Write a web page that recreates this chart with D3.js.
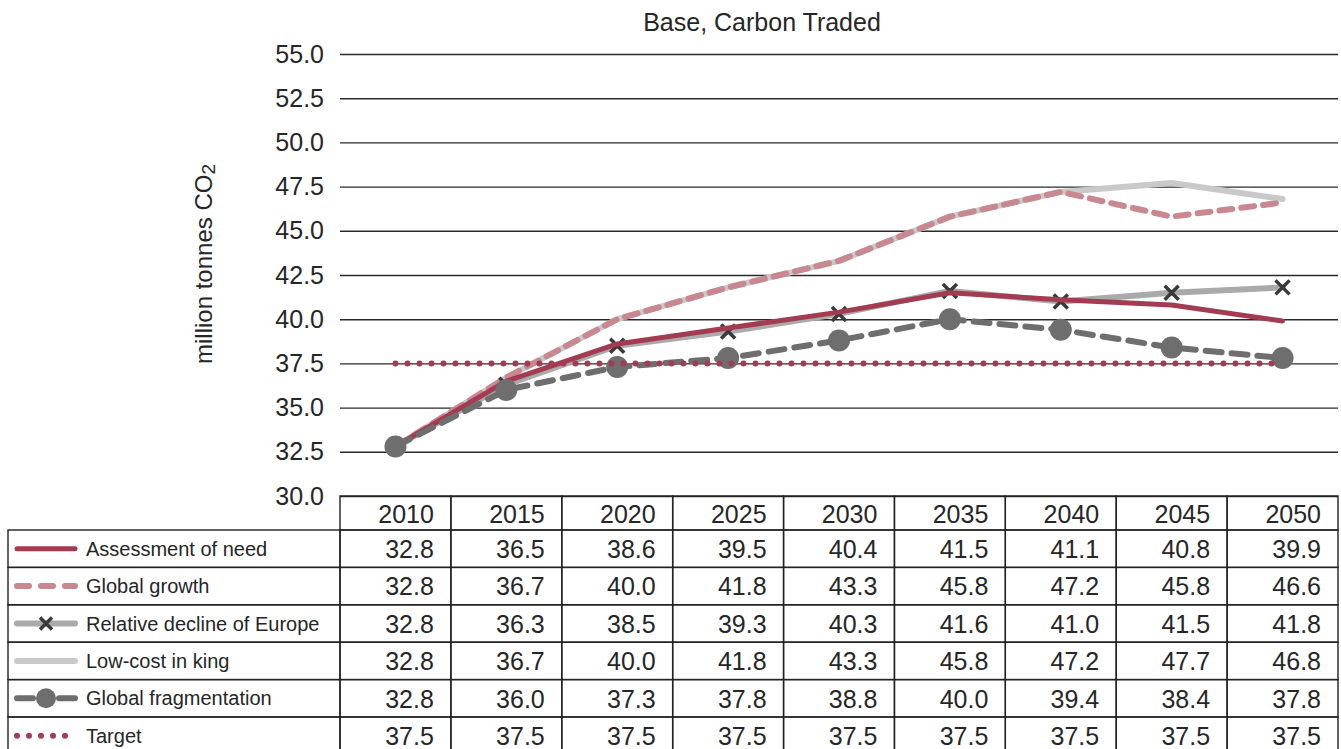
<!DOCTYPE html>
<html>
<head>
<meta charset="utf-8">
<script src="https://cdn.jsdelivr.net/npm/d3@7"></script>
<style>
  html, body { margin: 0; padding: 0; background: #fff; }
  svg { display: block; }
  text { font-family: "Liberation Sans", Arial, Helvetica, sans-serif; fill: #262626; }
</style>
</head>
<body>
<svg id="chart" width="1341" height="749"></svg>
<script>
// ---------- DATA ----------
const years = ["2010", "2015", "2020", "2025", "2030", "2035", "2040", "2045", "2050"];
const yTicks = [30.0, 32.5, 35.0, 37.5, 40.0, 42.5, 45.0, 47.5, 50.0, 52.5, 55.0];
const assessmentOfNeed   = [32.8, 36.5, 38.6, 39.5, 40.4, 41.5, 41.1, 40.8, 39.9];
const globalGrowth       = [32.8, 36.7, 40.0, 41.8, 43.3, 45.8, 47.2, 45.8, 46.6];
const relativeDecline    = [32.8, 36.3, 38.5, 39.3, 40.3, 41.6, 41.0, 41.5, 41.8];
const lowCostInKing      = [32.8, 36.7, 40.0, 41.8, 43.3, 45.8, 47.2, 47.7, 46.8];
const globalFragment     = [32.8, 36.0, 37.3, 37.8, 38.8, 40.0, 39.4, 38.4, 37.8];
const target             = [37.5, 37.5, 37.5, 37.5, 37.5, 37.5, 37.5, 37.5, 37.5];
const seriesNames = ["Assessment of need", "Global growth", "Relative decline of Europe",
                     "Low-cost in king", "Global fragmentation", "Target"];
const title = "Base, Carbon Traded";

// ---------- STYLES ----------
const styles = {
  "Assessment of need":        { color: "#a33b52", width: 5, dash: null, marker: null },
  "Global growth":             { color: "#c98790", width: 6, dash: "13,9", marker: null },
  "Relative decline of Europe":{ color: "#aaaaaa", width: 6, dash: null, marker: "x" },
  "Low-cost in king":          { color: "#c9c9c9", width: 6, dash: null, marker: null },
  "Global fragmentation":      { color: "#6e6e6e", width: 6, dash: "16,10", marker: "circle" },
  "Target":                    { color: "#a33b52", width: 6, dash: "0,12", marker: null }
};
const values = {
  "Assessment of need": assessmentOfNeed,
  "Global growth": globalGrowth,
  "Relative decline of Europe": relativeDecline,
  "Low-cost in king": lowCostInKing,
  "Global fragmentation": globalFragment,
  "Target": target
};

const svg = d3.select("#chart");
const plotL = 340, plotR = 1338, plotT = 54, plotB = 496;
const x = d3.scaleBand().domain(years).range([plotL, plotR]).padding(0);
const y = d3.scaleLinear().domain([30, 55]).range([plotB, plotT]);
const cx = d => x(d) + x.bandwidth() / 2;

// title
svg.append("text").attr("x", 762).attr("y", 31).attr("text-anchor", "middle")
  .style("font-size", "25px").text(title);

// y label
const yl = svg.append("text").attr("transform", "translate(212,264) rotate(-90)")
  .attr("text-anchor", "middle").style("font-size", "24px");
yl.append("tspan").text("million tonnes CO");
yl.append("tspan").attr("dy", 3).style("font-size", "19px").text("2");

// gridlines + y axis
const yAxis = d3.axisLeft(y).tickValues(yTicks).tickSize(-(plotR - plotL)).tickPadding(16)
  .tickFormat(d3.format(".1f"));
const ga = svg.append("g").attr("transform", `translate(${plotL},0)`).call(yAxis);
ga.select(".domain").remove();
ga.selectAll(".tick line").attr("stroke", "#2a2a2a").attr("stroke-width", 1.4);
ga.selectAll(".tick text").style("font-size", "25px").attr("fill", "#262626")
  .style("font-family", "'Liberation Sans', Arial, sans-serif");

// lines
const lineGen = d3.line().x((d, i) => cx(years[i])).y(d => y(d));
const drawOrder = ["Low-cost in king", "Global growth", "Relative decline of Europe",
                   "Assessment of need", "Global fragmentation", "Target"];
function xPath(s) { return `M${-s},${-s}L${s},${s}M${-s},${s}L${s},${-s}`; }

drawOrder.forEach(name => {
  const st = styles[name];
  const g = svg.append("g");
  g.append("path").datum(values[name]).attr("d", lineGen)
    .attr("fill", "none").attr("stroke", st.color).attr("stroke-width", st.width)
    .attr("stroke-linecap", "round").attr("stroke-linejoin", "round")
    .attr("stroke-dasharray", st.dash);
  if (st.marker === "x") {
    g.selectAll("path.mk").data(values[name]).join("path").attr("class", "mk")
      .attr("transform", (d, i) => `translate(${cx(years[i])},${y(d)})`)
      .attr("d", xPath(7)).attr("stroke", "#3a3a3a").attr("stroke-width", 3.5).attr("fill", "none");
  } else if (st.marker === "circle") {
    g.selectAll("circle").data(values[name]).join("circle")
      .attr("cx", (d, i) => cx(years[i])).attr("cy", d => y(d)).attr("r", 11)
      .attr("fill", st.color);
  }
});

// ---------- DATA TABLE ----------
const tblL = 8, headT = plotB, headH = 34, rowH = 37.4;
const rowsT = headT + headH;
const border = "#222";
const tg = svg.append("g");
years.forEach(yr => {
  tg.append("rect").attr("x", x(yr)).attr("y", headT).attr("width", x.bandwidth()).attr("height", headH)
    .attr("fill", "none").attr("stroke", border).attr("stroke-width", 1.4);
  tg.append("text").attr("x", x(yr) + x.bandwidth() - 17).attr("y", headT + 27)
    .attr("text-anchor", "end").style("font-size", "25px").text(yr);
});
seriesNames.forEach((name, r) => {
  const top = rowsT + r * rowH;
  tg.append("rect").attr("x", tblL).attr("y", top).attr("width", plotL - tblL).attr("height", rowH)
    .attr("fill", "none").attr("stroke", border).attr("stroke-width", 1.4);
  years.forEach((yr, i) => {
    tg.append("rect").attr("x", x(yr)).attr("y", top).attr("width", x.bandwidth()).attr("height", rowH)
      .attr("fill", "none").attr("stroke", border).attr("stroke-width", 1.4);
    tg.append("text").attr("x", x(yr) + x.bandwidth() - 17).attr("y", top + 28)
      .attr("text-anchor", "end").style("font-size", "25px").text(d3.format(".1f")(values[name][i]));
  });
  // legend key
  const st = styles[name];
  const my = top + rowH / 2;
  if (name === "Global fragmentation") {
    [[17, 33], [59, 75]].forEach(([a, b]) => {
      tg.append("line").attr("x1", a).attr("x2", b).attr("y1", my).attr("y2", my)
        .attr("stroke", st.color).attr("stroke-width", st.width).attr("stroke-linecap", "round");
    });
  } else {
    tg.append("line").attr("x1", 17).attr("x2", name === "Target" ? 68 : 75).attr("y1", my).attr("y2", my)
      .attr("stroke", st.color).attr("stroke-width", st.width).attr("stroke-linecap", "round")
      .attr("stroke-dasharray", name === "Global growth" ? "12,12" : st.dash);
  }
  if (st.marker === "x") {
    tg.append("path").attr("transform", `translate(46,${my})`).attr("d", xPath(6))
      .attr("stroke", "#3a3a3a").attr("stroke-width", 3.5);
  } else if (st.marker === "circle") {
    tg.append("circle").attr("cx", 46).attr("cy", my).attr("r", 10).attr("fill", st.color);
  }
  tg.append("text").attr("x", 86).attr("y", my + 7).style("font-size", "20px").text(name);
});
</script>
</body>
</html>
